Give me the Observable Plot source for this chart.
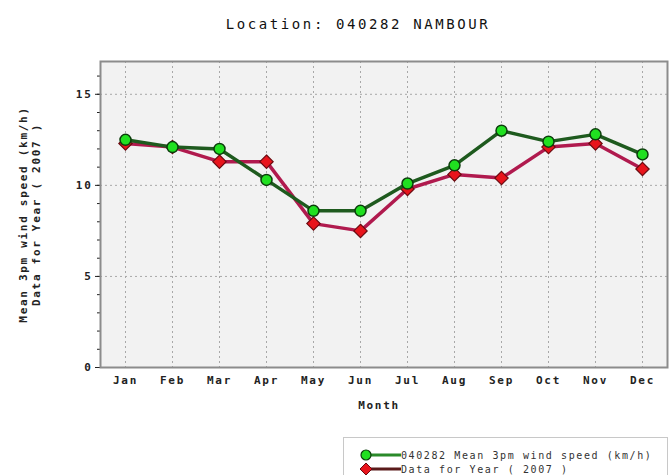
<!DOCTYPE html>
<html><head><meta charset="utf-8">
<script src="https://cdn.jsdelivr.net/npm/d3@7"></script>
<script src="https://cdn.jsdelivr.net/npm/@observablehq/plot@0.6"></script>
<style>
body{margin:0;background:#fff;width:670px;height:475px;overflow:hidden;position:relative;font-family:"DejaVu Sans Mono",monospace;}
#title{position:absolute;left:0;top:0;width:670px;height:45px;}
#title span{position:absolute;left:358px;top:24px;transform:translate(-50%,-50%);font-size:14px;letter-spacing:2.6px;color:#111;white-space:nowrap;}
#chart{position:absolute;left:0;top:45px;}
#legend{position:absolute;left:343px;top:437px;width:325px;height:50px;border:1px solid #c8c8c8;background:#fff;box-sizing:border-box;}
.row{position:absolute;left:0;height:14px;display:flex;align-items:center;}
.row span{font-size:10px;letter-spacing:1.6px;color:#333;white-space:nowrap;margin-left:0px;}
</style></head><body>
<div id="title"><span>Location: 040282 NAMBOUR</span></div>
<div id="chart"></div>
<div id="legend"></div>
<script>
const months = ["Jan","Feb","Mar","Apr","May","Jun","Jul","Aug","Sep","Oct","Nov","Dec"];
const meanSpeed = [12.5, 12.1, 12.0, 10.3, 8.6, 8.6, 10.1, 11.1, 13.0, 12.4, 12.8, 11.7];
const year2007 = [12.3, 12.1, 11.3, 11.3, 7.9, 7.5, 9.8, 10.6, 10.4, 12.1, 12.3, 10.9];
const yTicks = [0, 5, 10, 15];
const minorTicks = d3.range(0, 17, 1);
const seriesNames = ["040282 Mean 3pm wind speed (km/h)", "Data for Year ( 2007 )"];
const yLabel = "Mean 3pm wind speed (km/h)\nData for Year ( 2007 )";
const xLabel = "Month";

const meanData = months.map((m, i) => ({month: m, value: meanSpeed[i]}));
const yearData = months.map((m, i) => ({month: m, value: year2007[i]}));

const chart = Plot.plot({
  width: 670,
  height: 390,
  marginTop: 16,
  marginBottom: 68,
  marginLeft: 100,
  marginRight: 3,
  style: {fontFamily: "DejaVu Sans Mono", fontSize: "11px", fontWeight: "bold", letterSpacing: "1.7px", color: "#222", background: "white"},
  x: {type: "point", domain: months, padding: 0.5},
  y: {domain: [0, 16.8]},
  marks: [
    Plot.frame({fill: "#f2f2f2"}),
    Plot.gridX(months, {stroke: "#a8a8a8", strokeOpacity: 1, strokeDasharray: "2,3"}),
    Plot.gridY([5, 10, 15], {stroke: "#a8a8a8", strokeOpacity: 1, strokeDasharray: "2,3"}),
    Plot.axisX({tickSize: 0, tickPadding: 9, label: null}),
    Plot.axisY({ticks: yTicks, tickSize: 5, tickPadding: 3, tickFormat: d3.format("d"), label: null}),
    Plot.axisY({ticks: minorTicks, tickSize: 3, tickFormat: () => "", label: null}),
    Plot.line(yearData, {x: "month", y: "value", stroke: "#b01a4e", strokeWidth: 3.5}),
    Plot.dot(yearData, {x: "month", y: "value", symbol: "diamond2", r: 6, fill: "#e8141c", stroke: "#6a0a10", strokeWidth: 1.2}),
    Plot.line(meanData, {x: "month", y: "value", stroke: "#1e5a1e", strokeWidth: 3.5}),
    Plot.dot(meanData, {x: "month", y: "value", r: 5.5, fill: "#20e020", stroke: "#0c3d0c", strokeWidth: 1.5}),
    Plot.frame({stroke: "#8c8c8c", strokeWidth: 2}),
    Plot.text([yLabel], {text: d => d, frameAnchor: "left", textAnchor: "middle", lineAnchor: "middle", dx: -71.5, rotate: -90, lineHeight: 1.2, fontSize: 11, fontWeight: "bold"}),
    Plot.text([xLabel], {text: d => d, frameAnchor: "bottom", dx: -5, dy: 41, fontSize: 11, fontWeight: "bold"})
  ]
});
document.getElementById("chart").appendChild(chart);

const legendColors = [
  {line: "#2a8a2a", fill: "#20e020", stroke: "#0c3d0c", shape: "circle"},
  {line: "#5a1a1a", fill: "#e8141c", stroke: "#6a0a10", shape: "diamond"}
];
const legend = document.getElementById("legend");
seriesNames.forEach((name, i) => {
  const c = legendColors[i];
  const row = document.createElement("div");
  row.className = "row";
  row.style.top = (10 + i * 14) + "px";
  const marker = c.shape === "circle"
    ? `<circle cx="22" cy="7" r="5" fill="${c.fill}" stroke="${c.stroke}" stroke-width="1.2"/>`
    : `<path d="M22,1 L28,7 L22,13 L16,7 Z" fill="${c.fill}" stroke="${c.stroke}" stroke-width="1"/>`;
  row.innerHTML = `<svg width="57" height="14"><line x1="22" y1="7" x2="57" y2="7" stroke="${c.line}" stroke-width="3"/>${marker}</svg><span>${name}</span>`;
  legend.appendChild(row);
});
</script>
</body></html>
